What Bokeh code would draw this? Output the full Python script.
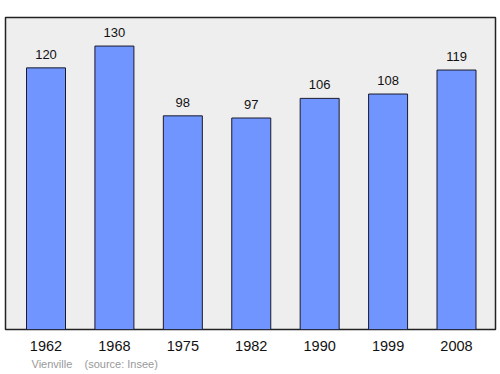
from bokeh.plotting import figure
from bokeh.models import ColumnDataSource, FixedTicker, Range1d, Title
from bokeh.embed import file_html
from bokeh.resources import INLINE
from bokeh.core.properties import value

years = ["1962", "1968", "1975", "1982", "1990", "1999", "2008"]
population = [120, 130, 98, 97, 106, 108, 119]
source_note = "Vienville\u00a0\u00a0\u00a0\u00a0(source: Insee)"

xs = list(range(len(years)))
src = ColumnDataSource(dict(x=xs, pop=population, lbl=[str(v) for v in population]))

p = figure(width=500, height=374, output_backend="svg", toolbar_location=None,
           x_range=Range1d(-0.592, 6.57), y_range=Range1d(0, 143.1),
           min_border_left=5, min_border_right=5, min_border_top=17, min_border_bottom=45)
p.border_fill_color = "white"
p.background_fill_color = "#eeeeee"
p.outline_line_color = "#222222"
p.outline_line_width = 1.5
p.grid.visible = False
p.yaxis.visible = False

p.vbar(x="x", top="pop", width=0.57, bottom=0, source=src,
       fill_color="#7095ff", line_color="#1a1a2a", line_width=1)
p.text(x="x", y="pop", text="lbl", source=src, text_align="center",
       text_baseline="bottom", y_offset=-9, text_font=value("Liberation Sans"),
       text_font_size="13px", text_color="#111111")

ax = p.xaxis[0]
ax.ticker = FixedTicker(ticks=xs)
ax.major_label_overrides = {i: y for i, y in enumerate(years)}
ax.axis_line_color = None
ax.major_tick_line_color = None
ax.minor_tick_line_color = None
ax.major_label_text_font = "Liberation Sans"
ax.major_label_text_font_size = "14.5px"
ax.major_label_text_color = "#111111"
ax.major_label_standoff = 5

t = Title(text=source_note, align="left", offset=26, text_font="Liberation Sans",
          text_font_size="11px", text_color="#999999", text_font_style="normal",
          standoff=5)
p.add_layout(t, "below")

open("out.html", "w").write(file_html(p, INLINE))
